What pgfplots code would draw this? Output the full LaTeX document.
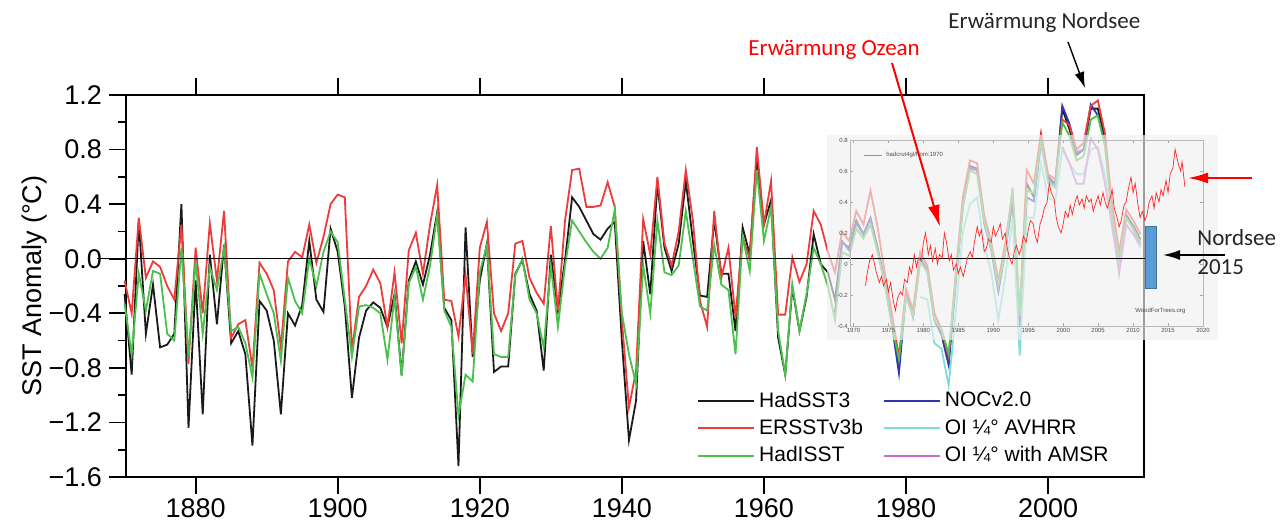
\documentclass[border=0pt]{standalone}
\usepackage{pgfplots}
\pgfplotsset{compat=1.18}
\usepackage{pgfplotstable}
\usepackage{fontspec}
\setmainfont{Liberation Sans}
\newfontfamily\calibri{Carlito}
\usetikzlibrary{arrows.meta}

\definecolor{cHad}{HTML}{1A1A1A}
\definecolor{cERS}{HTML}{EE3B3B}
\definecolor{cHadI}{HTML}{4CC04C}
\definecolor{cNOC}{HTML}{3535B0}
\definecolor{cAVH}{HTML}{7FDCDC}
\definecolor{cAMS}{HTML}{C86EC8}
\definecolor{boxblue}{HTML}{5B9BD5}
\definecolor{boxedge}{HTML}{41719C}

% year  HadSST3  ERSSTv3b  HadISST
\pgfplotstableread{
year black red green
1870 -0.26 -0.16 -0.33
1871 -0.85 -0.40 -0.70
1872 0.28 0.30 -0.11
1873 -0.55 -0.14 -0.38
1874 -0.19 -0.02 -0.09
1875 -0.65 -0.06 -0.11
1876 -0.63 -0.20 -0.55
1877 -0.55 -0.30 -0.60
1878 0.40 0.25 0.08
1879 -1.24 -0.77 -0.72
1880 -0.16 0.08 -0.02
1881 -1.14 -0.40 -0.55
1882 0.03 0.26 -0.06
1883 -0.48 -0.16 -0.23
1884 0.10 0.35 0.08
1885 -0.62 -0.58 -0.53
1886 -0.53 -0.48 -0.50
1887 -0.70 -0.45 -0.62
1888 -1.37 -0.80 -0.87
1889 -0.31 -0.03 -0.11
1890 -0.38 -0.11 -0.26
1891 -0.60 -0.23 -0.40
1892 -1.14 -0.65 -0.75
1893 -0.40 -0.02 -0.14
1894 -0.49 0.05 -0.31
1895 -0.34 0.01 -0.40
1896 0.13 0.25 0.00
1897 -0.30 -0.03 -0.20
1898 -0.39 0.16 0.05
1899 0.22 0.40 0.20
1900 0.05 0.47 0.12
1901 -0.35 0.45 -0.30
1902 -1.02 -0.67 -0.72
1903 -0.58 -0.28 -0.35
1904 -0.38 -0.20 -0.34
1905 -0.32 -0.08 -0.36
1906 -0.36 -0.18 -0.40
1907 -0.50 -0.50 -0.74
1908 -0.26 -0.10 -0.28
1909 -0.85 -0.62 -0.86
1910 -0.16 0.06 -0.18
1911 -0.02 0.19 -0.06
1912 -0.19 -0.11 -0.30
1913 0.03 0.25 -0.05
1914 0.34 0.54 0.32
1915 -0.36 -0.30 -0.38
1916 -0.45 -0.31 -0.50
1917 -1.52 -0.57 -1.15
1918 0.23 -0.12 -0.85
1919 -0.72 -0.70 -0.90
1920 -0.16 0.08 -0.10
1921 0.11 0.27 0.10
1922 -0.83 -0.40 -0.70
1923 -0.79 -0.53 -0.72
1924 -0.79 -0.40 -0.72
1925 -0.11 0.11 -0.12
1926 -0.01 0.13 0.00
1927 -0.26 -0.14 -0.30
1928 -0.38 -0.25 -0.40
1929 -0.82 -0.33 -0.65
1930 0.03 0.24 -0.05
1931 -0.38 -0.38 -0.50
1932 -0.01 0.28 -0.05
1933 0.45 0.65 0.28
1934 0.38 0.66 0.20
1935 0.28 0.38 0.12
1936 0.18 0.38 0.05
1937 0.14 0.39 0.00
1938 0.22 0.56 0.08
1939 0.27 0.38 0.36
1940 -0.60 -0.45 -0.40
1941 -1.33 -1.09 -0.70
1942 -1.04 -0.82 -0.92
1943 0.13 0.29 -0.05
1944 -0.26 0.03 -0.40
1945 0.55 0.60 0.28
1946 0.08 0.11 -0.10
1947 -0.09 -0.05 -0.12
1948 0.11 0.20 -0.05
1949 0.57 0.65 0.35
1950 0.13 0.28 0.00
1951 -0.27 -0.31 -0.35
1952 -0.28 -0.50 -0.38
1953 0.28 0.35 0.10
1954 -0.11 -0.14 -0.19
1955 -0.11 0.08 -0.23
1956 -0.53 -0.43 -0.70
1957 0.23 0.16 0.16
1958 0.03 0.00 -0.09
1959 0.74 0.82 0.65
1960 0.25 0.25 0.13
1961 0.43 0.57 0.38
1962 -0.58 -0.41 -0.53
1963 -0.85 -0.41 -0.85
1964 -0.21 0.01 -0.19
1965 -0.53 -0.17 -0.53
1966 -0.28 -0.04 -0.26
1967 0.18 0.35 0.08
1968 -0.04 0.25 -0.04
1969 -0.10 0.05 -0.20
1970 -0.30 -0.10 -0.45
1971 0.12 0.20 0.05
1972 0.08 0.13 0.02
1973 0.28 0.35 0.22
1974 0.18 0.25 0.15
1975 0.30 0.50 0.25
1976 0.08 0.23 0.05
1977 -0.16 -0.10 -0.18
1978 -0.46 -0.40 -0.48
1979 -0.78 -0.72 -0.74
1980 -0.25 -0.22 -0.28
1981 -0.42 -0.38 -0.42
1982 0.00 0.05 -0.02
1983 -0.08 -0.05 -0.10
1984 -0.45 -0.40 -0.45
1985 -0.55 -0.52 -0.52
1986 -0.76 -0.72 -0.70
1987 -0.15 -0.10 -0.15
1988 0.40 0.45 0.38
1989 0.68 0.72 0.65
1990 0.66 0.70 0.62
1991 0.28 0.32 0.28
1992 0.08 0.12 0.08
1993 -0.22 -0.16 -0.20
1994 0.08 0.12 0.06
1995 0.45 0.50 0.52
1996 -0.45 -0.40 -0.42
1997 0.55 0.65 0.50
1998 0.45 0.55 0.48
1999 0.89 0.92 0.86
2000 0.60 0.62 0.56
2001 0.55 0.58 0.52
2002 1.10 1.02 1.00
2003 0.95 0.98 0.90
2004 0.76 0.80 0.72
2005 0.80 0.85 0.75
2006 1.10 1.12 1.02
2007 1.10 1.16 1.05
2008 0.88 0.92 0.82
2009 0.35 0.40 0.32
2010 0.02 0.05 0.00
2011 0.32 0.36 0.30
2012 0.24 0.28 0.22
2013 0.14 0.18 0.12
}\longtab

% NOCv2.0
\pgfplotstableread{
year val
1970 -0.39
1971 0.13
1972 0.06
1973 0.26
1974 0.18
1975 0.29
1976 0.06
1977 -0.18
1978 -0.48
1979 -0.84
1980 -0.26
1981 -0.43
1982 0.01
1983 -0.09
1984 -0.45
1985 -0.56
1986 -0.78
1987 -0.18
1988 0.38
1989 0.66
1990 0.65
1991 0.26
1992 0.06
1993 -0.24
1994 0.06
1995 0.42
1996 -0.50
1997 0.45
1998 0.42
1999 0.85
2000 0.58
2001 0.54
2002 1.12
2003 0.99
2004 0.78
2005 0.80
2006 1.13
2007 1.05
2008 0.85
2009 0.30
2010 -0.02
2011 0.30
2012 0.22
2013 0.10
}\noctab

% OI 1/4 AVHRR
\pgfplotstableread{
year val
1982 -0.28
1983 -0.30
1984 -0.62
1985 -0.66
1986 -0.93
1987 -0.40
1988 0.20
1989 0.40
1990 0.45
1991 0.10
1992 -0.10
1993 -0.45
1994 -0.12
1995 0.30
1996 -0.71
1997 0.30
1998 0.30
1999 0.70
2000 0.45
2001 0.42
2002 0.80
2003 0.70
2004 0.62
2005 0.62
2006 0.80
2007 0.82
2008 0.62
2009 0.22
2010 -0.05
2011 0.25
2012 0.18
2013 0.08
}\avhtab

% OI 1/4 with AMSR
\pgfplotstableread{
year val
2002 0.82
2003 0.70
2004 0.55
2005 0.55
2006 0.88
2007 0.80
2008 0.55
2009 0.25
2010 -0.11
2011 0.25
2012 0.18
2013 0.10
}\amstab

% inset: HadCRUT4 from 1970 (WoodForTrees)
\pgfplotstableread{
year val
1971.7 -0.14
1972.0 -0.05
1972.3 0.02
1972.7 0.06
1973.0 0.00
1973.3 -0.06
1973.7 -0.12
1974.0 -0.08
1974.3 -0.14
1974.7 -0.10
1975.0 -0.18
1975.3 -0.12
1975.7 -0.24
1976.0 -0.30
1976.3 -0.22
1976.7 -0.18
1977.0 -0.20
1977.3 -0.10
1977.7 -0.12
1978.0 -0.02
1978.3 -0.06
1978.7 0.06
1979.0 -0.02
1979.3 0.04
1979.7 0.02
1980.0 0.14
1980.3 0.20
1980.7 0.06
1981.0 0.12
1981.3 0.02
1981.7 0.10
1982.0 0.00
1982.3 0.06
1982.7 0.04
1983.0 0.20
1983.3 0.14
1983.7 0.02
1984.0 0.06
1984.3 -0.04
1984.7 0.00
1985.0 -0.06
1985.3 -0.02
1985.7 -0.08
1986.0 -0.02
1986.3 0.04
1986.7 0.08
1987.0 0.04
1987.3 0.14
1987.7 0.24
1988.0 0.18
1988.3 0.22
1988.7 0.08
1989.0 0.10
1989.3 0.16
1989.7 0.14
1990.0 0.24
1990.3 0.18
1990.7 0.22
1991.0 0.26
1991.3 0.16
1991.7 0.20
1992.0 0.10
1992.3 0.04
1992.7 0.00
1993.0 0.08
1993.3 0.12
1993.7 0.06
1994.0 0.10
1994.3 0.18
1994.7 0.14
1995.0 0.22
1995.3 0.28
1995.7 0.26
1996.0 0.18
1996.3 0.14
1996.7 0.26
1997.0 0.30
1997.3 0.36
1997.7 0.40
1998.0 0.52
1998.3 0.46
1998.7 0.42
1999.0 0.30
1999.3 0.24
1999.7 0.20
2000.0 0.26
2000.3 0.34
2000.7 0.30
2001.0 0.38
2001.3 0.32
2001.7 0.40
2002.0 0.44
2002.3 0.38
2002.7 0.42
2003.0 0.36
2003.3 0.44
2003.7 0.40
2004.0 0.42
2004.3 0.34
2004.7 0.40
2005.0 0.44
2005.3 0.38
2005.7 0.46
2006.0 0.40
2006.3 0.36
2006.7 0.42
2007.0 0.48
2007.3 0.36
2007.7 0.30
2008.0 0.24
2008.3 0.28
2008.7 0.38
2009.0 0.40
2009.3 0.48
2009.7 0.56
2010.0 0.46
2010.3 0.52
2010.7 0.38
2011.0 0.30
2011.3 0.34
2011.7 0.28
2012.0 0.32
2012.3 0.40
2012.7 0.44
2013.0 0.36
2013.3 0.46
2013.7 0.40
2014.0 0.48
2014.3 0.44
2014.7 0.54
2015.0 0.46
2015.3 0.58
2015.7 0.62
2016.0 0.74
2016.2 0.70
2016.5 0.64
2016.8 0.60
2017.0 0.66
2017.2 0.58
2017.4 0.50
}\crutab

\begin{document}
\begin{tikzpicture}
\path[use as bounding box] (0,0) rectangle (642pt,261.5pt);

\begin{axis}[
  at={(63pt,23pt)}, anchor=south west,
  scale only axis, width=509pt, height=191pt,
  xmin=1870.2, xmax=2013.5, ymin=-1.6, ymax=1.2,
  xtick={1880,1900,1920,1940,1960,1980,2000},
  xticklabels={1880,1900,1920,1940,1960,1980,2000},
  ytick={-1.6,-1.2,-0.8,-0.4,0,0.4,0.8,1.2},
  yticklabels={−1.6,−1.2,−0.8,−0.4,0.0,0.4,0.8,1.2},
  minor ytick={-1.4,-1.0,-0.6,-0.2,0.2,0.6,1.0},
  xtick pos=bottom,
  ytick pos=left,
  tick align=outside,
  major tick length=8.5pt, minor tick length=4pt,
  every tick/.style={black, line width=0.9pt},
  axis line style={line width=1pt},
  ticklabel style={font=\fontsize{13.5}{14}\selectfont},
  xticklabel style={yshift=1pt},
  ylabel={SST Anomaly (°C)},
  ylabel style={font=\fontsize{13.5}{14}\selectfont},
  ylabel shift=-6pt,
  clip=false,
  legend columns=2,
  legend cell align=left,
  legend style={draw=none, fill=none, at={(0.555,0.245)}, anchor=north west,
    font=\fontsize{10.5}{12}\selectfont, row sep=0.6pt,
    /tikz/every even column/.append style={column sep=8pt}},
  legend image code/.code={\draw[#1] (0pt,0pt) -- (28pt,0pt);},
]
\addplot[cHad, line width=0.9pt] table[x=year, y=black] {\longtab};
\addlegendentry{HadSST3}
\addplot[cNOC, line width=0.9pt] table[x=year, y=val] {\noctab};
\addlegendentry{NOCv2.0}
\addplot[cERS, line width=0.9pt] table[x=year, y=red] {\longtab};
\addlegendentry{ERSSTv3b}
\addplot[cAVH, line width=0.9pt] table[x=year, y=val] {\avhtab};
\addlegendentry{OI ¼° AVHRR}
\addplot[cHadI, line width=0.9pt] table[x=year, y=green] {\longtab};
\addlegendentry{HadISST}
\addplot[cAMS, line width=0.9pt] table[x=year, y=val] {\amstab};
\addlegendentry{OI ¼° with AMSR}
% outward ticks on the top spine
\pgfplotsinvokeforeach{1880,1900,1920,1940,1960,1980,2000}{
  \draw[black, line width=0.9pt] (axis cs:#1,1.2) -- ++(0pt,8.5pt);
}
\end{axis}

% pasted inset background
\fill[gray!12, opacity=0.66] (413.5pt,91.5pt) rectangle (609pt,194pt);
% zero line
\draw[black, line width=0.6pt] (48.5pt,132.1pt) -- (572.5pt,132.1pt);

\begin{axis}[
  at={(425pt,98.5pt)}, anchor=south west,
  scale only axis, width=176.5pt, height=93pt,
  xmin=1969.5, xmax=2020, ymin=-0.4, ymax=0.8,
  xtick={1970,1975,1980,1985,1990,1995,2000,2005,2010,2015,2020},
  xticklabels={1970,1975,1980,1985,1990,1995,2000,2005,2010,2015,2020},
  ytick={-0.4,-0.2,0,0.2,0.4,0.6,0.8},
  yticklabels={-0.4,-0.2,0,0.2,0.4,0.6,0.8},
  ticklabel style={font=\fontsize{3}{3}\selectfont, text=gray!60!black, inner sep=1pt},
  tick align=inside, major tick length=1.5pt,
  every tick/.style={gray!70, line width=0.3pt},
  axis line style={gray!55, line width=0.4pt},
  legend style={draw=none, fill=none, at={(0.02,0.98)}, anchor=north west,
    font=\fontsize{3}{3}\selectfont, text=gray!60!black},
  legend image code/.code={\draw[red!60, line width=0.4pt] (0pt,0pt) -- (9pt,0pt);},
]
\addplot[red!85, line width=0.35pt] table[x=year, y=val] {\crutab};
\addlegendentry{hadcrut4gl/from:1970}
\node[font=\fontsize{3}{3}\selectfont, text=gray!60!black, anchor=south east]
  at (rel axis cs:0.97,0.03) {WoodForTrees.org};
\end{axis}

% annotations
\node[font=\calibri\fontsize{11.5}{12}\selectfont, anchor=west, inner sep=0pt, text=black!85]
  at (474pt,250pt) {Erwärmung Nordsee};
\draw[black, line width=0.7pt, -{Latex[length=8pt,width=5pt]}] (534pt,240.5pt) -- (542.5pt,217.5pt);
\node[font=\calibri\fontsize{11.5}{12}\selectfont, anchor=west, inner sep=0pt, text=red]
  at (374pt,236.5pt) {Erwärmung Ozean};
\draw[red, line width=1pt, -{Latex[length=11pt,width=6pt]}] (446pt,230pt) -- (470pt,148pt);
\draw[red, line width=1pt, -{Latex[length=10pt,width=5.5pt]}] (626pt,172.5pt) -- (594pt,172.5pt);
\draw[boxedge, fill=boxblue, line width=0.5pt] (572.5pt,117pt) rectangle (578pt,148pt);
\draw[black, line width=0.8pt, -{Latex[length=8.5pt,width=5pt]}] (612.5pt,134pt) -- (581.5pt,134pt);
\node[font=\calibri\fontsize{11.5}{12}\selectfont, anchor=west, inner sep=0pt, text=black!85]
  at (598.5pt,142.5pt) {Nordsee};
\node[font=\calibri\fontsize{11.5}{12}\selectfont, anchor=west, inner sep=0pt, text=black!85]
  at (598.5pt,128pt) {2015};
\end{tikzpicture}
\end{document}
